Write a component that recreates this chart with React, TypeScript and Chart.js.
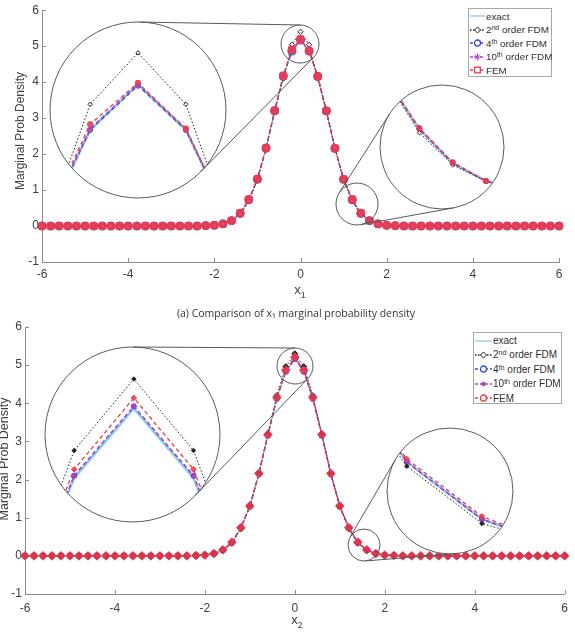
import React, { useEffect, useRef } from "react";
import { Chart, registerables } from "chart.js";
Chart.register(...registerables);

// ---------------- data ----------------
const xGrid = [
  -6, -5.8, -5.6, -5.4, -5.2, -5, -4.8, -4.6, -4.4, -4.2, -4, -3.8, -3.6, -3.4, -3.2, -3, -2.8, -2.6, -2.4, -2.2,
  -2, -1.8, -1.6, -1.4, -1.2, -1, -0.8, -0.6, -0.4, -0.2, 0, 0.2, 0.4, 0.6, 0.8, 1, 1.2, 1.4, 1.6, 1.8, 2, 2.2,
  2.4, 2.6, 2.8, 3, 3.2, 3.4, 3.6, 3.8, 4, 4.2, 4.4, 4.6, 4.8, 5, 5.2, 5.4, 5.6, 5.8, 6,
];
const xTickValues = [-6, -4, -2, 0, 2, 4, 6];
const yTickValues = [-1, 0, 1, 2, 3, 4, 5, 6];
const seriesNames = ["exact", "2nd order FDM", "4th order FDM", "10th order FDM", "FEM"];

// (a) x1 marginal
const topExact = [
  0, 0, 0, 0, 0, 0, 0, 0, 0, 0, 0, 0, 0, 0, 0, 0, 0, 0, 0,
  0.01, 0.02, 0.06, 0.15, 0.35, 0.73, 1.3, 2.16, 3.2, 4.16, 4.86, 5.18, 4.86, 4.16, 3.2, 2.16, 1.3, 0.73, 0.35, 0.15, 0.06, 0.02, 0.01,
  0, 0, 0, 0, 0, 0, 0, 0, 0, 0, 0, 0, 0, 0, 0, 0, 0, 0, 0,
];
const topFdm2 = [
  0, 0, 0, 0, 0, 0, 0, 0, 0, 0, 0, 0, 0, 0, 0, 0, 0, 0, 0,
  0.01, 0.02, 0.06, 0.15, 0.33, 0.69, 1.28, 2.17, 3.18, 4.1, 5.04, 5.4, 5.04, 4.1, 3.18, 2.17, 1.28, 0.69, 0.33, 0.15, 0.06, 0.02, 0.01,
  0, 0, 0, 0, 0, 0, 0, 0, 0, 0, 0, 0, 0, 0, 0, 0, 0, 0, 0,
];
const topFdm4 = [
  0, 0, 0, 0, 0, 0, 0, 0, 0, 0, 0, 0, 0, 0, 0, 0, 0, 0, 0,
  0.01, 0.02, 0.06, 0.15, 0.35, 0.73, 1.3, 2.16, 3.2, 4.16, 4.86, 5.17, 4.86, 4.16, 3.2, 2.16, 1.3, 0.73, 0.35, 0.15, 0.06, 0.02, 0.01,
  0, 0, 0, 0, 0, 0, 0, 0, 0, 0, 0, 0, 0, 0, 0, 0, 0, 0, 0,
];
const topFdm10 = [
  0, 0, 0, 0, 0, 0, 0, 0, 0, 0, 0, 0, 0, 0, 0, 0, 0, 0, 0,
  0.01, 0.02, 0.06, 0.15, 0.35, 0.73, 1.3, 2.16, 3.2, 4.17, 4.87, 5.18, 4.87, 4.16, 3.2, 2.16, 1.3, 0.73, 0.35, 0.15, 0.06, 0.02, 0.01,
  0, 0, 0, 0, 0, 0, 0, 0, 0, 0, 0, 0, 0, 0, 0, 0, 0, 0, 0,
];
const topFem = [
  0, 0, 0, 0, 0, 0, 0, 0, 0, 0, 0, 0, 0, 0, 0, 0, 0, 0, 0,
  0.01, 0.02, 0.06, 0.15, 0.36, 0.74, 1.31, 2.17, 3.21, 4.18, 4.9, 5.19, 4.87, 4.16, 3.2, 2.16, 1.3, 0.74, 0.36, 0.15, 0.06, 0.02, 0.01,
  0, 0, 0, 0, 0, 0, 0, 0, 0, 0, 0, 0, 0, 0, 0, 0, 0, 0, 0,
];

// (b) x2 marginal
const botExact = [
  0, 0, 0, 0, 0, 0, 0, 0, 0, 0, 0, 0, 0, 0, 0, 0, 0, 0, 0,
  0.01, 0.02, 0.06, 0.15, 0.35, 0.73, 1.3, 2.15, 3.16, 4.12, 4.83, 5.16, 4.83, 4.12, 3.16, 2.15, 1.3, 0.73, 0.35, 0.15, 0.06, 0.02, 0.01,
  0, 0, 0, 0, 0, 0, 0, 0, 0, 0, 0, 0, 0, 0, 0, 0, 0, 0, 0,
];
const botFdm2 = [
  0, 0, 0, 0, 0, 0, 0, 0, 0, 0, 0, 0, 0, 0, 0, 0, 0, 0, 0,
  0.01, 0.02, 0.06, 0.135, 0.335, 0.71, 1.3, 2.17, 3.2, 4.2, 4.96, 5.3, 4.96, 4.2, 3.2, 2.17, 1.3, 0.71, 0.335, 0.135, 0.06, 0.02, 0.01,
  0, 0, 0, 0, 0, 0, 0, 0, 0, 0, 0, 0, 0, 0, 0, 0, 0, 0, 0,
];
const botFdm4 = [
  0, 0, 0, 0, 0, 0, 0, 0, 0, 0, 0, 0, 0, 0, 0, 0, 0, 0, 0,
  0.01, 0.02, 0.06, 0.15, 0.35, 0.73, 1.3, 2.15, 3.16, 4.13, 4.84, 5.17, 4.84, 4.13, 3.16, 2.15, 1.3, 0.73, 0.35, 0.15, 0.06, 0.02, 0.01,
  0, 0, 0, 0, 0, 0, 0, 0, 0, 0, 0, 0, 0, 0, 0, 0, 0, 0, 0,
];
const botFdm10 = [
  0, 0, 0, 0, 0, 0, 0, 0, 0, 0, 0, 0, 0, 0, 0, 0, 0, 0, 0,
  0.01, 0.02, 0.06, 0.15, 0.35, 0.73, 1.3, 2.15, 3.16, 4.13, 4.84, 5.17, 4.84, 4.13, 3.16, 2.15, 1.3, 0.73, 0.35, 0.15, 0.06, 0.02, 0.01,
  0, 0, 0, 0, 0, 0, 0, 0, 0, 0, 0, 0, 0, 0, 0, 0, 0, 0, 0,
];
const botFem = [
  0, 0, 0, 0, 0, 0, 0, 0, 0, 0, 0, 0, 0, 0, 0, 0, 0, 0, 0,
  0.01, 0.02, 0.06, 0.16, 0.36, 0.74, 1.31, 2.16, 3.18, 4.15, 4.87, 5.21, 4.87, 4.15, 3.18, 2.16, 1.31, 0.74, 0.36, 0.16, 0.06, 0.02, 0.01,
  0, 0, 0, 0, 0, 0, 0, 0, 0, 0, 0, 0, 0, 0, 0, 0, 0, 0, 0,
];

const topSeries = [topExact, topFdm2, topFdm4, topFdm10, topFem];
const botSeries = [botExact, botFdm2, botFdm4, botFdm10, botFem];

// ---------------- styling ----------------
const FONT = '"Liberation Sans", Arial, Helvetica, sans-serif';
const C_EXACT = "#8cc8ea";
const C_F2 = "#222222";
const C_F4 = "#2f4fd6";
const C_F10 = "#b43fce";
const C_FEM = "#f0384c";

type Plot = "a" | "b";

function pts(vals: number[]) {
  return xGrid.map((x, i) => ({ x, y: vals[i] }));
}

function buildDatasets(plot: Plot, s: number[][], inset: boolean) {
  const [exact, f2, f4, f10, fem] = s;
  const a = plot === "a";
  const ds: any[] = [
    {
      label: seriesNames[0], data: pts(exact), borderColor: C_EXACT,
      borderWidth: inset ? 2.6 : 1.2, pointRadius: 0, order: 4,
    },
    {
      label: seriesNames[1], data: pts(f2), borderColor: C_F2, borderWidth: 1,
      borderDash: [1.5, 2], pointStyle: "rectRot",
      pointRadius: inset ? 2.2 : a ? 2.6 : 3,
      pointBackgroundColor: a ? "rgba(255,255,255,0.6)" : C_F2,
      pointBorderColor: C_F2, pointBorderWidth: 1, order: 1,
    },
    {
      label: seriesNames[2], data: pts(f4), borderColor: C_F4, borderWidth: 1.2,
      borderDash: [4, 3], pointStyle: "circle",
      pointRadius: inset ? 2.5 : a ? 4 : 3,
      pointBackgroundColor: a ? "rgba(90,70,210,0.55)" : C_F4,
      pointBorderColor: C_F4, pointBorderWidth: 1, order: 3,
    },
    {
      label: seriesNames[3], data: pts(f10), borderColor: C_F10, borderWidth: 1.2,
      borderDash: [4, 3], pointStyle: a ? "star" : "circle",
      pointRadius: inset ? (a ? 2.8 : 1.8) : a ? 3.6 : 2,
      pointBackgroundColor: C_F10, pointBorderColor: C_F10, pointBorderWidth: 1, order: 2,
    },
    {
      label: seriesNames[4], data: pts(fem), borderColor: C_FEM, borderWidth: 1.3,
      borderDash: [4, 3], pointStyle: a ? "rectRounded" : "rectRot",
      pointRadius: inset ? 2.8 : a ? 4.3 : 4.3,
      pointBackgroundColor: "rgba(240,56,76,0.85)", pointBorderColor: C_FEM,
      pointBorderWidth: 1, order: 0,
    },
  ];
  return ds.map((d) => ({
    ...d, fill: false, tension: 0, pointHoverRadius: d.pointRadius,
    clip: inset ? undefined : false,
  }));
}

const inwardTicks = {
  id: "inwardTicks",
  beforeDatasetsDraw(chart: any) {
    const { ctx, chartArea, scales } = chart;
    ctx.save();
    ctx.strokeStyle = "#8c8c8c";
    ctx.lineWidth = 1;
    ctx.beginPath();
    for (const v of xTickValues) {
      const px = Math.round(scales.x.getPixelForValue(v)) + 0.5;
      ctx.moveTo(px, chartArea.bottom);
      ctx.lineTo(px, chartArea.bottom - 4);
    }
    for (const v of yTickValues) {
      const py = Math.round(scales.y.getPixelForValue(v)) + 0.5;
      ctx.moveTo(chartArea.left, py);
      ctx.lineTo(chartArea.left + 4, py);
    }
    ctx.stroke();
    ctx.restore();
  },
};

type Area = { left: number; right: number; top: number; bottom: number };

function mainConfig(plot: Plot, series: number[][], area: Area, w: number, h: number, xPad: number): any {
  const tickFont = { family: FONT, size: 12 };
  return {
    type: "line",
    data: { datasets: buildDatasets(plot, series, false) },
    options: {
      animation: false, responsive: false, devicePixelRatio: 1,
      layout: { padding: { left: 0, top: area.top, right: w - area.right, bottom: 0 } },
      plugins: { legend: { display: false }, tooltip: { enabled: false } },
      scales: {
        x: {
          type: "linear", min: -6, max: 6,
          afterBuildTicks: (s: any) => { s.ticks = xTickValues.map((v) => ({ value: v })); },
          grid: { display: true, drawOnChartArea: false, drawTicks: false },
          border: { display: true, color: "#8c8c8c", width: 1 },
          ticks: { color: "#404040", font: tickFont, padding: xPad, maxRotation: 0, autoSkip: false },
          afterFit: (s: any) => { s.height = h - area.bottom; },
        },
        y: {
          type: "linear", min: -1, max: 6,
          afterBuildTicks: (s: any) => { s.ticks = yTickValues.map((v) => ({ value: v })); },
          grid: { display: true, drawOnChartArea: false, drawTicks: false },
          border: { display: true, color: "#8c8c8c", width: 1 },
          ticks: { color: "#404040", font: tickFont, padding: 3, autoSkip: false },
          afterFit: (s: any) => { s.width = area.left; },
        },
      },
    },
    plugins: [inwardTicks],
  };
}

function insetConfig(plot: Plot, series: number[][], xr: number[], yr: number[]): any {
  return {
    type: "line",
    data: { datasets: buildDatasets(plot, series, true) },
    options: {
      animation: false, responsive: false, devicePixelRatio: 1,
      layout: { padding: 0 },
      plugins: { legend: { display: false }, tooltip: { enabled: false } },
      scales: {
        x: { type: "linear", min: xr[0], max: xr[1], display: false },
        y: { type: "linear", min: yr[0], max: yr[1], display: false },
      },
    },
  };
}

function ChartBox(props: { left: number; top: number; width: number; height: number; round?: boolean; make: () => any }) {
  const ref = useRef<HTMLCanvasElement>(null);
  useEffect(() => {
    const c = new Chart(ref.current as HTMLCanvasElement, props.make());
    return () => c.destroy();
  }, []);
  const { left, top, width, height, round } = props;
  return (
    <div style={{ position: "absolute", left, top, width, height, borderRadius: round ? "50%" : 0, overflow: round ? "hidden" : "visible", background: round ? "#fff" : "transparent" }}>
      <canvas ref={ref} width={width} height={height} style={{ display: "block", width, height }} />
    </div>
  );
}

// magnifier geometry (screen px) and the data window shown in each big circle
type Circ = { x: number; y: number; r: number };
const magnifiers: { plot: Plot; big: Circ; small: Circ; xr: number[]; yr: number[] }[] = [
  { plot: "a", big: { x: 138, y: 110, r: 88 }, small: { x: 300, y: 44, r: 19 }, xr: [-0.352, 0.352], yr: [4.41, 5.59] },
  { plot: "a", big: { x: 442, y: 147, r: 62 }, small: { x: 357, y: 204, r: 21 }, xr: [0.986, 1.686], yr: [-0.12, 1.18] },
  { plot: "b", big: { x: 132.5, y: 434.5, r: 87.5 }, small: { x: 295, y: 366, r: 18 }, xr: [-0.285, 0.276], yr: [4.638, 5.434] },
  { plot: "b", big: { x: 450, y: 491, r: 63 }, small: { x: 364, y: 545, r: 16 }, xr: [1.3575, 1.6725], yr: [0.042, 0.455] },
];

function tangents(c1: Circ, c2: Circ) {
  const dx = c2.x - c1.x, dy = c2.y - c1.y;
  const D = Math.hypot(dx, dy);
  const base = Math.atan2(dy, dx);
  const a = Math.acos((c1.r - c2.r) / D);
  return [base + a, base - a].map((t) => {
    const nx = Math.cos(t), ny = Math.sin(t);
    return [c1.x + c1.r * nx, c1.y + c1.r * ny, c2.x + c2.r * nx, c2.y + c2.r * ny];
  });
}

// ---------------- legend ----------------
function MarkerSvg({ kind, color, cx }: { kind: string; color: string; cx: number }) {
  const cy = 5;
  if (kind === "diamond") return <path d={`M${cx} ${cy - 3} L${cx + 3} ${cy} L${cx} ${cy + 3} L${cx - 3} ${cy} Z`} fill="#fff" stroke={color} strokeWidth={1} />;
  if (kind === "circle") return <circle cx={cx} cy={cy} r={3} fill="#fff" stroke={color} strokeWidth={1.3} />;
  if (kind === "dot") return <circle cx={cx} cy={cy} r={1.8} fill={color} stroke={color} />;
  if (kind === "square") return <rect x={cx - 2.8} y={cy - 2.8} width={5.6} height={5.6} fill="#fff" stroke={color} strokeWidth={1.3} />;
  if (kind === "star")
    return (
      <g stroke={color} strokeWidth={1}>
        <line x1={cx - 3.5} y1={cy} x2={cx + 3.5} y2={cy} />
        <line x1={cx} y1={cy - 3.5} x2={cx} y2={cy + 3.5} />
        <line x1={cx - 2.5} y1={cy - 2.5} x2={cx + 2.5} y2={cy + 2.5} />
        <line x1={cx - 2.5} y1={cy + 2.5} x2={cx + 2.5} y2={cy - 2.5} />
      </g>
    );
  return null;
}

const sup = (t: string) => <sup style={{ fontSize: "0.72em", lineHeight: 0, verticalAlign: "0.45em" }}>{t}</sup>;

function legendLabel(i: number) {
  if (i === 0) return <>exact</>;
  if (i === 1) return <>2{sup("nd")} order FDM</>;
  if (i === 2) return <>4{sup("th")} order FDM</>;
  if (i === 3) return <>10{sup("th")} order FDM</>;
  return <>FEM</>;
}

function Legend(props: { left: number; top: number; width: number; height: number; rowStart: number; rowStep: number; sampleW: number; fontSize: number; plot: Plot }) {
  const { left, top, width, height, rowStart, rowStep, sampleW, fontSize, plot } = props;
  const items = [
    { color: C_EXACT, dash: "", marker: "" },
    { color: C_F2, dash: "1.5 1.5", marker: "diamond" },
    { color: C_F4, dash: "3 2", marker: "circle" },
    { color: C_F10, dash: "3 2", marker: plot === "a" ? "star" : "dot" },
    { color: C_FEM, dash: "3 2", marker: plot === "a" ? "square" : "circle" },
  ];
  return (
    <div style={{ position: "absolute", left, top, width, height, boxSizing: "border-box", border: "1px solid #a8a8a8", background: "#fff", fontFamily: FONT, fontSize, color: "#303030" }}>
      {items.map((it, i) => (
        <div key={i} style={{ position: "absolute", left: 1, top: rowStart + i * rowStep - 7, height: 14, display: "flex", alignItems: "center", whiteSpace: "nowrap" }}>
          <svg width={sampleW} height={10} style={{ marginRight: 1, flex: "none" }}>
            <line x1={0} y1={5} x2={sampleW} y2={5} stroke={it.color} strokeWidth={1.3} strokeDasharray={it.dash || undefined} />
            {it.marker && <MarkerSvg kind={it.marker} color={it.color} cx={sampleW / 2} />}
          </svg>
          <span>{legendLabel(i)}</span>
        </div>
      ))}
    </div>
  );
}

// ---------------- app ----------------
const TOP_AREA: Area = { left: 42, right: 559, top: 5, bottom: 262 };
const BOT_AREA: Area = { left: 25, right: 569, top: 17, bottom: 284 }; // relative to its canvas at y=310

export default function App() {
  const textStyle: any = { position: "absolute", fontFamily: FONT, color: "#404040", whiteSpace: "nowrap", transform: "translate(-50%,-50%)" };
  return (
    <div style={{ position: "fixed", left: 0, top: 0, width: 575, height: 632, background: "#fff", overflow: "hidden" }}>
      <ChartBox left={0} top={0} width={575} height={300} make={() => mainConfig("a", topSeries, TOP_AREA, 575, 300, 5)} />
      <ChartBox left={0} top={310} width={575} height={322} make={() => mainConfig("b", botSeries, BOT_AREA, 575, 322, 7)} />

      {magnifiers.map((m, i) => {
        const size = Math.round(m.big.r * 2);
        return (
          <ChartBox key={i} round left={Math.round(m.big.x - m.big.r)} top={Math.round(m.big.y - m.big.r)} width={size} height={size}
            make={() => insetConfig(m.plot, m.plot === "a" ? topSeries : botSeries, m.xr, m.yr)} />
        );
      })}

      <svg width={575} height={632} style={{ position: "absolute", left: 0, top: 0, pointerEvents: "none" }}>
        {magnifiers.map((m, i) => (
          <g key={i} fill="none" stroke="#5a5a5a" strokeWidth={1}>
            <circle cx={m.big.x} cy={m.big.y} r={m.big.r} />
            <circle cx={m.small.x} cy={m.small.y} r={m.small.r} />
            {tangents(m.big, m.small).map((t, j) => (
              <line key={j} x1={t[0]} y1={t[1]} x2={t[2]} y2={t[3]} />
            ))}
          </g>
        ))}
      </svg>

      <Legend plot="a" left={468} top={8} width={84} height={69} rowStart={7} rowStep={13.6} sampleW={15} fontSize={9.8} />
      <Legend plot="b" left={473} top={332} width={89} height={72} rowStart={7.5} rowStep={14.4} sampleW={17} fontSize={10} />

      <div style={{ ...textStyle, left: 20, top: 131, fontSize: 12, transform: "translate(-50%,-50%) rotate(-90deg)" }}>Marginal Prob Density</div>
      <div style={{ ...textStyle, left: 4, top: 459, fontSize: 12.5, transform: "translate(-50%,-50%) rotate(-90deg)" }}>Marginal Prob Density</div>

      <div style={{ ...textStyle, left: 300, top: 291, fontSize: 13 }}>x<sub style={{ fontSize: 9 }}>1</sub></div>
      <div style={{ ...textStyle, left: 297, top: 621, fontSize: 13 }}>x<sub style={{ fontSize: 9 }}>2</sub></div>

      <div style={{ ...textStyle, left: 296, top: 313, fontSize: 10.5, fontFamily: '"Open Sans", sans-serif', color: "#333" }}>
        (a) Comparison of x₁ marginal probability density
      </div>
    </div>
  );
}
